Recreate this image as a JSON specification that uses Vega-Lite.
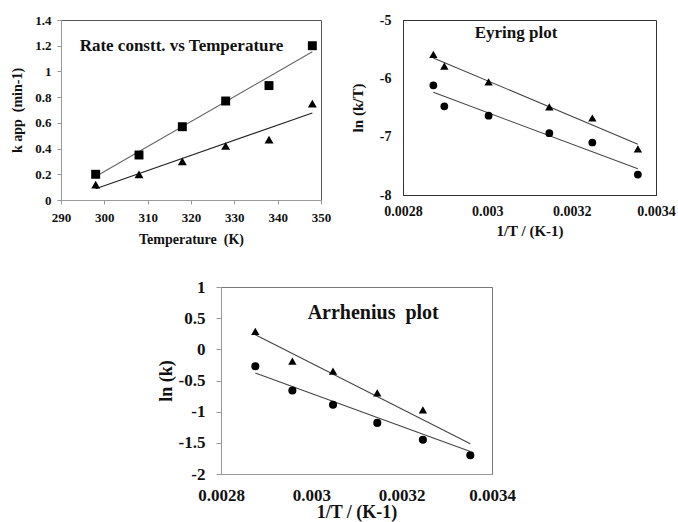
{
  "$schema": "https://vega.github.io/schema/vega-lite/v6.json",
  "background": "white",
  "padding": {"left": 10, "top": 12, "right": 0, "bottom": 0},
  "config": {
    "font": "Liberation Serif",
    "locale": {"number": {"decimal": ".", "thousands": ",", "grouping": [3], "currency": ["$", ""], "minus": "-"}},
    "axis": {"grid": false, "labelFont": "Liberation Serif", "titleFont": "Liberation Serif", "labelFontWeight": "bold", "titleFontWeight": "bold", "labelColor": "#111", "titleColor": "#111", "labelFlush": false, "labelOverlap": false},
    "line": {"strokeWidth": 1}
  },
  "datasets": {
    "pts": [
      {"panel": "rate", "series": "sq", "x": 298, "y": 0.20},
      {"panel": "rate", "series": "sq", "x": 308, "y": 0.35},
      {"panel": "rate", "series": "sq", "x": 318, "y": 0.57},
      {"panel": "rate", "series": "sq", "x": 328, "y": 0.77},
      {"panel": "rate", "series": "sq", "x": 338, "y": 0.89},
      {"panel": "rate", "series": "sq", "x": 348, "y": 1.20},
      {"panel": "rate", "series": "tri", "x": 298, "y": 0.12},
      {"panel": "rate", "series": "tri", "x": 308, "y": 0.20},
      {"panel": "rate", "series": "tri", "x": 318, "y": 0.30},
      {"panel": "rate", "series": "tri", "x": 328, "y": 0.42},
      {"panel": "rate", "series": "tri", "x": 338, "y": 0.47},
      {"panel": "rate", "series": "tri", "x": 348, "y": 0.75},
      {"panel": "eyring", "series": "tri", "x": 0.002872, "y": -5.59},
      {"panel": "eyring", "series": "tri", "x": 0.002898, "y": -5.79},
      {"panel": "eyring", "series": "tri", "x": 0.003003, "y": -6.06},
      {"panel": "eyring", "series": "tri", "x": 0.003147, "y": -6.49},
      {"panel": "eyring", "series": "tri", "x": 0.003249, "y": -6.68},
      {"panel": "eyring", "series": "tri", "x": 0.003357, "y": -7.21},
      {"panel": "eyring", "series": "circ", "x": 0.002872, "y": -6.12},
      {"panel": "eyring", "series": "circ", "x": 0.002898, "y": -6.48},
      {"panel": "eyring", "series": "circ", "x": 0.003003, "y": -6.64},
      {"panel": "eyring", "series": "circ", "x": 0.003147, "y": -6.94},
      {"panel": "eyring", "series": "circ", "x": 0.003249, "y": -7.10},
      {"panel": "eyring", "series": "circ", "x": 0.003357, "y": -7.65},
      {"panel": "arr", "series": "tri", "x": 0.002876, "y": 0.29},
      {"panel": "arr", "series": "tri", "x": 0.002958, "y": -0.19},
      {"panel": "arr", "series": "tri", "x": 0.003048, "y": -0.35},
      {"panel": "arr", "series": "tri", "x": 0.003146, "y": -0.70},
      {"panel": "arr", "series": "tri", "x": 0.003247, "y": -0.97},
      {"panel": "arr", "series": "circ", "x": 0.002876, "y": -0.27},
      {"panel": "arr", "series": "circ", "x": 0.002958, "y": -0.66},
      {"panel": "arr", "series": "circ", "x": 0.003048, "y": -0.89},
      {"panel": "arr", "series": "circ", "x": 0.003146, "y": -1.18},
      {"panel": "arr", "series": "circ", "x": 0.003247, "y": -1.45},
      {"panel": "arr", "series": "circ", "x": 0.003352, "y": -1.70}
    ],
    "fit": [
      {"panel": "rate", "series": "sq", "x": 298, "y": 0.183},
      {"panel": "rate", "series": "sq", "x": 348, "y": 1.153},
      {"panel": "rate", "series": "tri", "x": 298, "y": 0.087},
      {"panel": "rate", "series": "tri", "x": 348, "y": 0.677},
      {"panel": "eyring", "series": "tri", "x": 0.002872, "y": -5.65},
      {"panel": "eyring", "series": "tri", "x": 0.003357, "y": -7.13},
      {"panel": "eyring", "series": "circ", "x": 0.002872, "y": -6.24},
      {"panel": "eyring", "series": "circ", "x": 0.003357, "y": -7.55},
      {"panel": "arr", "series": "tri", "x": 0.002876, "y": 0.235},
      {"panel": "arr", "series": "tri", "x": 0.003352, "y": -1.515},
      {"panel": "arr", "series": "circ", "x": 0.002876, "y": -0.38},
      {"panel": "arr", "series": "circ", "x": 0.003352, "y": -1.64}
    ]
  },
  "spacing": 30,
  "resolve": {"scale": {"x": "independent", "y": "independent", "shape": "independent", "size": "independent", "color": "independent"}},
  "vconcat": [
    {
      "bounds": "flush",
      "spacing": 82,
      "resolve": {"scale": {"x": "independent", "y": "independent", "shape": "independent", "size": "independent", "color": "independent"}},
      "hconcat": [
        {
          "width": 260,
          "height": 180,
          "view": {"stroke": "#555"},
          "layer": [
            {"data": {"name": "fit"}, "transform": [{"filter": "datum.panel === 'rate'"}],
              "mark": {"type": "line", "strokeWidth": 1.1},
              "encoding": {
                "x": {"field": "x", "type": "quantitative", "scale": {"domain": [290, 350], "nice": false, "zero": false},
                  "axis": {"values": [290, 300, 310, 320, 330, 340, 350], "format": "~f", "tickSize": 4, "tickColor": "#999", "domainColor": "#999", "labelFontSize": 13, "labelPadding": 7, "title": "Temperature \u00a0(K)", "titleFontSize": 14, "titlePadding": 8}},
                "y": {"field": "y", "type": "quantitative", "scale": {"domain": [0, 1.4], "nice": false},
                  "axis": {"values": [0, 0.2, 0.4, 0.6, 0.8, 1, 1.2, 1.4], "format": "~f", "tickSize": 4, "tickColor": "#999", "domainColor": "#999", "labelFontSize": 13, "labelPadding": 6, "title": "k app \u00a0(min-1)", "titleFontSize": 14, "titlePadding": 10}},
                "detail": {"field": "series"},
                "color": {"field": "series", "type": "nominal", "scale": {"domain": ["sq", "tri"], "range": ["#666666", "#222222"]}, "legend": null}}},
            {"data": {"name": "pts"}, "transform": [{"filter": "datum.panel === 'rate'"}],
              "mark": {"type": "point", "filled": true, "opacity": 1, "color": "black", "size": 80},
              "encoding": {
                "x": {"field": "x", "type": "quantitative", "scale": {"domain": [290, 350], "nice": false, "zero": false},
                  "axis": {"values": [290, 300, 310, 320, 330, 340, 350], "format": "~f", "tickSize": 4, "tickColor": "#999", "domainColor": "#999", "labelFontSize": 13, "labelPadding": 7, "title": "Temperature \u00a0(K)", "titleFontSize": 14, "titlePadding": 8}},
                "y": {"field": "y", "type": "quantitative", "scale": {"domain": [0, 1.4], "nice": false},
                  "axis": {"values": [0, 0.2, 0.4, 0.6, 0.8, 1, 1.2, 1.4], "format": "~f", "tickSize": 4, "tickColor": "#999", "domainColor": "#999", "labelFontSize": 13, "labelPadding": 6, "title": "k app \u00a0(min-1)", "titleFontSize": 14, "titlePadding": 10}},
                "shape": {"field": "series", "type": "nominal", "scale": {"domain": ["sq", "tri"], "range": ["square", "triangle-up"]}, "legend": null}}},
            {"data": {"values": [{"label": "Rate constt. vs Temperature"}]},
              "mark": {"type": "text", "font": "Liberation Serif", "fontWeight": "bold", "fontSize": 17, "color": "#111", "baseline": "middle", "align": "center"},
              "encoding": {
                "x": {"datum": 317.8, "type": "quantitative", "scale": {"domain": [290, 350], "nice": false, "zero": false},
                  "axis": {"values": [290, 300, 310, 320, 330, 340, 350], "format": "~f", "tickSize": 4, "tickColor": "#999", "domainColor": "#999", "labelFontSize": 13, "labelPadding": 7, "title": "Temperature \u00a0(K)", "titleFontSize": 14, "titlePadding": 8}},
                "y": {"datum": 1.2, "type": "quantitative", "scale": {"domain": [0, 1.4], "nice": false},
                  "axis": {"values": [0, 0.2, 0.4, 0.6, 0.8, 1, 1.2, 1.4], "format": "~f", "tickSize": 4, "tickColor": "#999", "domainColor": "#999", "labelFontSize": 13, "labelPadding": 6, "title": "k app \u00a0(min-1)", "titleFontSize": 14, "titlePadding": 10}},
                "text": {"field": "label"}}}
          ]
        },
        {
          "width": 253,
          "height": 175,
          "view": {"stroke": "#333"},
          "layer": [
            {"data": {"name": "fit"}, "transform": [{"filter": "datum.panel === 'eyring'"}],
              "mark": {"type": "line", "color": "#444", "strokeWidth": 1.1},
              "encoding": {
                "x": {"field": "x", "type": "quantitative", "scale": {"domain": [0.0028, 0.0034], "nice": false, "zero": false},
                  "axis": {"values": [0.0028, 0.003, 0.0032, 0.0034], "format": "~g", "ticks": false, "domainColor": "#333", "labelFontSize": 14, "labelPadding": 9, "title": "1/T / (K-1)", "titleFontSize": 15, "titlePadding": 5}},
                "y": {"field": "y", "type": "quantitative", "scale": {"domain": [-8, -5], "nice": false, "zero": false},
                  "axis": {"values": [-8, -7, -6, -5], "format": "~g", "ticks": false, "domainColor": "#333", "labelFontSize": 14, "labelPadding": 12, "title": "ln (k/T)", "titleFontSize": 15, "titlePadding": 14}},
                "detail": {"field": "series"}}},
            {"data": {"name": "pts"}, "transform": [{"filter": "datum.panel === 'eyring'"}],
              "mark": {"type": "point", "filled": true, "opacity": 1, "color": "black"},
              "encoding": {
                "x": {"field": "x", "type": "quantitative", "scale": {"domain": [0.0028, 0.0034], "nice": false, "zero": false},
                  "axis": {"values": [0.0028, 0.003, 0.0032, 0.0034], "format": "~g", "ticks": false, "domainColor": "#333", "labelFontSize": 14, "labelPadding": 9, "title": "1/T / (K-1)", "titleFontSize": 15, "titlePadding": 5}},
                "y": {"field": "y", "type": "quantitative", "scale": {"domain": [-8, -5], "nice": false, "zero": false},
                  "axis": {"values": [-8, -7, -6, -5], "format": "~g", "ticks": false, "domainColor": "#333", "labelFontSize": 14, "labelPadding": 12, "title": "ln (k/T)", "titleFontSize": 15, "titlePadding": 14}},
                "shape": {"field": "series", "type": "nominal", "scale": {"domain": ["tri", "circ"], "range": ["triangle-up", "circle"]}, "legend": null},
                "size": {"field": "series", "type": "nominal", "scale": {"domain": ["tri", "circ"], "range": [70, 60]}, "legend": null}}},
            {"data": {"values": [{"label": "Eyring  plot"}]},
              "mark": {"type": "text", "font": "Liberation Serif", "fontWeight": "bold", "fontSize": 17, "color": "#111", "baseline": "middle", "align": "center"},
              "encoding": {
                "x": {"datum": 0.003068, "type": "quantitative", "scale": {"domain": [0.0028, 0.0034], "nice": false, "zero": false},
                  "axis": {"values": [0.0028, 0.003, 0.0032, 0.0034], "format": "~g", "ticks": false, "domainColor": "#333", "labelFontSize": 14, "labelPadding": 9, "title": "1/T / (K-1)", "titleFontSize": 15, "titlePadding": 5}},
                "y": {"datum": -5.23, "type": "quantitative", "scale": {"domain": [-8, -5], "nice": false, "zero": false},
                  "axis": {"values": [-8, -7, -6, -5], "format": "~g", "ticks": false, "domainColor": "#333", "labelFontSize": 14, "labelPadding": 12, "title": "ln (k/T)", "titleFontSize": 15, "titlePadding": 14}},
                "text": {"field": "label"}}}
          ]
        }
      ]
    },
    {
      "bounds": "flush",
      "spacing": 0,
      "resolve": {"scale": {"x": "independent", "y": "independent", "shape": "independent", "size": "independent", "color": "independent"}},
      "hconcat": [
        {
          "width": 160,
          "height": 1,
          "view": {"stroke": null},
          "data": {"values": []},
          "mark": "point"
        },
        {
          "width": 271,
          "height": 187,
          "view": {"stroke": "#777"},
          "layer": [
            {"data": {"name": "fit"}, "transform": [{"filter": "datum.panel === 'arr'"}],
              "mark": {"type": "line", "color": "#444", "strokeWidth": 1.1},
              "encoding": {
                "x": {"field": "x", "type": "quantitative", "scale": {"domain": [0.0028, 0.0034], "nice": false, "zero": false},
                  "axis": {"values": [0.0028, 0.003, 0.0032, 0.0034], "format": "~g", "ticks": false, "domainColor": "#999", "labelFontSize": 17, "labelPadding": 13, "title": "1/T / (K-1)", "titleFontSize": 18, "titlePadding": 0}},
                "y": {"field": "y", "type": "quantitative", "scale": {"domain": [-2, 1], "nice": false, "zero": false},
                  "axis": {"values": [-2, -1.5, -1, -0.5, 0, 0.5, 1], "format": "~g", "tickSize": 5, "tickColor": "#999", "domainColor": "#999", "labelFontSize": 17, "labelPadding": 11, "title": "ln (k)", "titleFontSize": 18, "titlePadding": 3}},
                "detail": {"field": "series"}}},
            {"data": {"name": "pts"}, "transform": [{"filter": "datum.panel === 'arr'"}],
              "mark": {"type": "point", "filled": true, "opacity": 1, "color": "black"},
              "encoding": {
                "x": {"field": "x", "type": "quantitative", "scale": {"domain": [0.0028, 0.0034], "nice": false, "zero": false},
                  "axis": {"values": [0.0028, 0.003, 0.0032, 0.0034], "format": "~g", "ticks": false, "domainColor": "#999", "labelFontSize": 17, "labelPadding": 13, "title": "1/T / (K-1)", "titleFontSize": 18, "titlePadding": 0}},
                "y": {"field": "y", "type": "quantitative", "scale": {"domain": [-2, 1], "nice": false, "zero": false},
                  "axis": {"values": [-2, -1.5, -1, -0.5, 0, 0.5, 1], "format": "~g", "tickSize": 5, "tickColor": "#999", "domainColor": "#999", "labelFontSize": 17, "labelPadding": 11, "title": "ln (k)", "titleFontSize": 18, "titlePadding": 3}},
                "shape": {"field": "series", "type": "nominal", "scale": {"domain": ["tri", "circ"], "range": ["triangle-up", "circle"]}, "legend": null},
                "size": {"field": "series", "type": "nominal", "scale": {"domain": ["tri", "circ"], "range": [70, 65]}, "legend": null}}},
            {"data": {"values": [{"label": "Arrhenius\u00a0 plot"}]},
              "mark": {"type": "text", "font": "Liberation Serif", "fontWeight": "bold", "fontSize": 20, "color": "#111", "baseline": "middle", "align": "center"},
              "encoding": {
                "x": {"datum": 0.003137, "type": "quantitative", "scale": {"domain": [0.0028, 0.0034], "nice": false, "zero": false},
                  "axis": {"values": [0.0028, 0.003, 0.0032, 0.0034], "format": "~g", "ticks": false, "domainColor": "#999", "labelFontSize": 17, "labelPadding": 13, "title": "1/T / (K-1)", "titleFontSize": 18, "titlePadding": 0}},
                "y": {"datum": 0.583, "type": "quantitative", "scale": {"domain": [-2, 1], "nice": false, "zero": false},
                  "axis": {"values": [-2, -1.5, -1, -0.5, 0, 0.5, 1], "format": "~g", "tickSize": 5, "tickColor": "#999", "domainColor": "#999", "labelFontSize": 17, "labelPadding": 11, "title": "ln (k)", "titleFontSize": 18, "titlePadding": 3}},
                "text": {"field": "label"}}}
          ]
        }
      ]
    }
  ]
}
